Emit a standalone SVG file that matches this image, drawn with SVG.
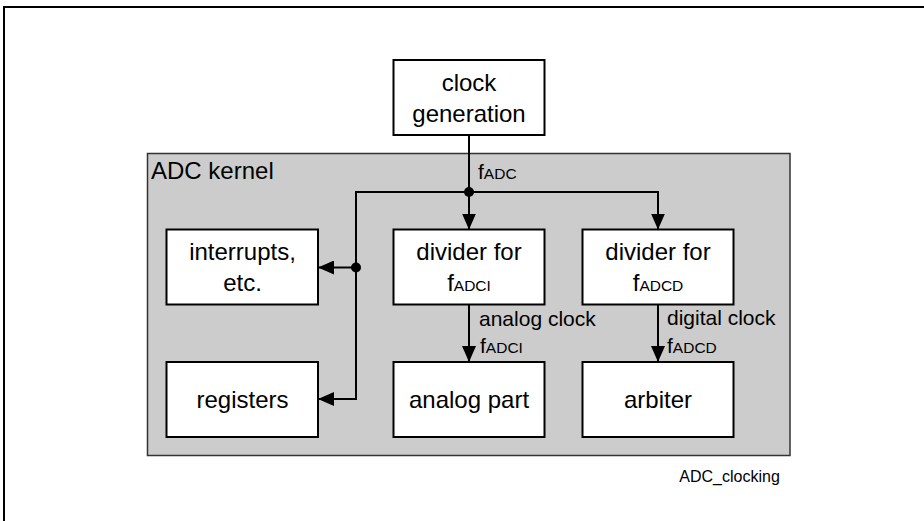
<svg xmlns="http://www.w3.org/2000/svg" width="924" height="521" viewBox="0 0 924 521">
<defs>
<style>
.box{fill:#fff;stroke:#000;stroke-width:2}
.t{font-family:"Liberation Sans",Arial,sans-serif;font-size:24px;fill:#000}
.lab{font-family:"Liberation Sans",Arial,sans-serif;font-size:21px;fill:#000}
.sub{font-size:15.5px}
.ln{fill:none;stroke:#000;stroke-width:2}
</style>
<marker id="arr" markerUnits="userSpaceOnUse" markerWidth="17" markerHeight="14" refX="16" refY="7" orient="auto">
<path d="M0,0 L16,7 L0,14 z" fill="#000"/>
</marker>
</defs>
<rect width="924" height="521" fill="#fff"/>
<path d="M4,521 V7 H924" fill="none" stroke="#000" stroke-width="2"/>
<g id="adc-kernel">
<rect x="147.5" y="153.5" width="642.5" height="302" fill="#cccccc" stroke="#333" stroke-width="1.5"/>
<text class="t" x="151" y="179">ADC kernel</text>
</g>
<g id="clock-generation">
<rect class="box" x="393.5" y="60" width="151" height="75"/>
<text class="t" x="469" y="90.5" text-anchor="middle">clock</text>
<text class="t" x="469" y="121.5" text-anchor="middle">generation</text>
</g>
<g id="interrupts">
<rect class="box" x="166.5" y="229.5" width="151.5" height="75"/>
<text class="t" x="242.5" y="260.3" text-anchor="middle">interrupts,</text>
<text class="t" x="242.5" y="291.3" text-anchor="middle">etc.</text>
</g>
<g id="divider-adci">
<rect class="box" x="393.5" y="229.5" width="151" height="75"/>
<text class="t" x="469" y="260.3" text-anchor="middle">divider for</text>
<text class="t" x="469" y="291.3" text-anchor="middle">f<tspan class="sub">ADCI</tspan></text>
</g>
<g id="divider-adcd">
<rect class="box" x="582.5" y="229.5" width="151" height="75"/>
<text class="t" x="658" y="260.3" text-anchor="middle">divider for</text>
<text class="t" x="658" y="291.3" text-anchor="middle">f<tspan class="sub">ADCD</tspan></text>
</g>
<g id="registers">
<rect class="box" x="166.5" y="362" width="151.5" height="75"/>
<text class="t" x="242.5" y="407.5" text-anchor="middle">registers</text>
</g>
<g id="analog-part">
<rect class="box" x="393.5" y="362" width="151" height="75"/>
<text class="t" x="469" y="407.5" text-anchor="middle">analog part</text>
</g>
<g id="arbiter">
<rect class="box" x="582.5" y="362" width="151" height="75"/>
<text class="t" x="658" y="407.5" text-anchor="middle">arbiter</text>
</g>
<g id="connectors">
<path class="ln" d="M469,135 V229.5" marker-end="url(#arr)"/>
<path class="ln" d="M356,399 V192 H658 V229.5" marker-end="url(#arr)"/>
<path class="ln" d="M356,192 V399 H318" marker-end="url(#arr)"/>
<path class="ln" d="M356,267.5 H318" marker-end="url(#arr)"/>
<path class="ln" d="M469,304.5 V362" marker-end="url(#arr)"/>
<path class="ln" d="M658,304.5 V362" marker-end="url(#arr)"/>
<circle cx="469" cy="192" r="5" fill="#000"/>
<circle cx="356" cy="267.5" r="5" fill="#000"/>
<text class="lab" x="478" y="179" font-size="23">f<tspan class="sub">ADC</tspan></text>
<text class="lab" x="479" y="326">analog clock</text>
<text class="lab" x="480" y="352.7">f<tspan class="sub">ADCI</tspan></text>
<text class="lab" x="667" y="325">digital clock</text>
<text class="lab" x="667" y="352.7">f<tspan class="sub">ADCD</tspan></text>
</g>
<text class="lab" x="679.3" y="481.7" style="font-size:16px">ADC_clocking</text>
</svg>
